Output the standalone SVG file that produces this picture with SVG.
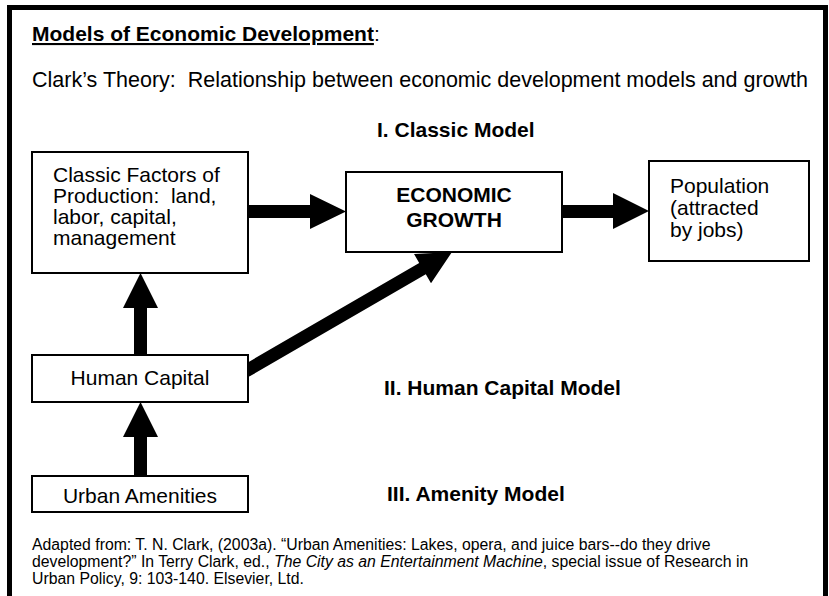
<svg xmlns="http://www.w3.org/2000/svg" width="829" height="596" viewBox="0 0 829 596">
<style>
text{font-family:"Liberation Sans",Arial,sans-serif;fill:#000;white-space:pre}
.box{fill:#fff;stroke:#000;stroke-width:2}
.t{font-size:21px}
.b{font-weight:bold}
.lab{font-size:21px;font-weight:bold}
.foot{font-size:15.8px}
.arr{fill:#000;stroke:none}
</style>
<rect x="0" y="0" width="829" height="596" fill="#fff"/>
<rect x="9.5" y="7.5" width="816" height="620" fill="none" stroke="#000" stroke-width="5"/>
<g id="header">
<text x="32" y="41" font-size="21"><tspan font-weight="bold" text-decoration="underline">Models of Economic Development</tspan>:</text>
<text x="32" y="87" font-size="21.5" xml:space="preserve">Clark’s Theory:  Relationship between economic development models and growth</text>
</g>
<g id="labels">
<text class="lab" x="377" y="137">I. Classic Model</text>
<text class="lab" x="384" y="395">II. Human Capital Model</text>
<text class="lab" x="387" y="501">III. Amenity Model</text>
</g>
<g id="connectors">
<polygon class="arr" points="248,205 310,205 310,194 346,211.5 310,229 310,218 248,218"/>
<polygon class="arr" points="562,205 613,205 613,193 649,211 613,229 613,218 562,218"/>
<polygon class="arr" points="134,355 134,308 123,308 140.5,273 158,308 147,308 147,355"/>
<polygon class="arr" points="134,476 134,437 123,437 140.5,402 158,437 147,437 147,476"/>
<polygon class="arr" points="242.7,365.4 419.2,263 414,253.9 452,252 431,283.3 425.8,274.2 249.3,376.6"/>
</g>
<g id="node-classic">
<rect class="box" x="32" y="152" width="216" height="121"/>
<text class="t" x="53" y="182">Classic Factors of</text>
<text class="t" x="53" y="203" xml:space="preserve">Production:  land,</text>
<text class="t" x="53" y="224">labor, capital,</text>
<text class="t" x="53" y="245">management</text>
</g>
<g id="node-growth">
<rect class="box" x="346" y="172" width="216" height="80"/>
<text class="t b" x="454" y="202" text-anchor="middle">ECONOMIC</text>
<text class="t b" x="454" y="227" text-anchor="middle">GROWTH</text>
</g>
<g id="node-population">
<rect class="box" x="649" y="161" width="160" height="100"/>
<text class="t" x="670" y="193">Population</text>
<text class="t" x="670" y="215">(attracted</text>
<text class="t" x="670" y="237">by jobs)</text>
</g>
<g id="node-human">
<rect class="box" x="32" y="355" width="216" height="47"/>
<text class="t" x="140" y="385" text-anchor="middle">Human Capital</text>
</g>
<g id="node-urban">
<rect class="box" x="32" y="476" width="216" height="36"/>
<text class="t" x="140" y="503" text-anchor="middle">Urban Amenities</text>
</g>
<g id="footnote">
<text class="foot" x="32" y="550">Adapted from: T. N. Clark, (2003a). “Urban Amenities: Lakes, opera, and juice bars--do they drive</text>
<text class="foot" x="32" y="567">development?” In Terry Clark, ed., <tspan font-style="italic">The City as an Entertainment Machine</tspan>, special issue of Research in</text>
<text class="foot" x="32" y="584">Urban Policy, 9: 103-140. Elsevier, Ltd.</text>
</g>
</svg>
